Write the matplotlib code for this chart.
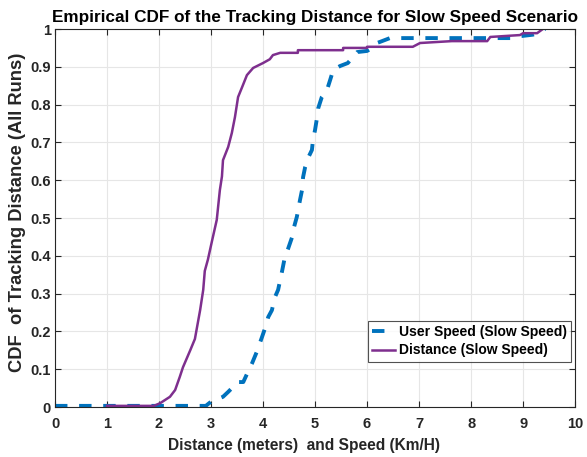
import matplotlib

matplotlib.use("Agg")

import matplotlib.pyplot as plt

plt.rcParams["font.family"] = ["Liberation Sans", "DejaVu Sans"]
plt.rcParams["font.weight"] = "bold"

# Empirical CDF (x, y) - "Distance (Slow Speed)"
dist_x = [1.00, 1.90, 2.02, 2.21, 2.31, 2.40, 2.46, 2.60, 2.69, 2.79, 2.85, 2.88,
          2.94, 2.98, 3.02, 3.11, 3.17, 3.21, 3.23, 3.33, 3.40, 3.46, 3.52, 3.60,
          3.69, 3.81, 4.00, 4.13, 4.19, 4.33, 4.67, 4.67, 5.54, 5.54, 6.00, 6.00,
          6.88, 7.02, 7.63, 8.31, 8.37, 8.94, 9.00, 9.27, 9.38]
dist_y = [0.003, 0.003, 0.010, 0.027, 0.045, 0.080, 0.105, 0.150, 0.180, 0.256,
          0.310, 0.360, 0.390, 0.415, 0.440, 0.495, 0.574, 0.610, 0.653, 0.688,
          0.725, 0.767, 0.820, 0.847, 0.878, 0.897, 0.910, 0.920, 0.931, 0.937,
          0.937, 0.944, 0.944, 0.950, 0.950, 0.953, 0.953, 0.963, 0.968, 0.968,
          0.979, 0.984, 0.989, 0.989, 1.000]

# "User Speed (Slow Speed)"
speed_x = [0.00, 2.90, 3.00, 3.23, 3.33, 3.46, 3.50, 3.62, 3.71, 3.79, 3.88,
           3.98, 4.04, 4.10, 4.17, 4.23, 4.29, 4.33, 4.37, 4.42, 4.48, 4.56,
           4.58, 4.65, 4.71, 4.75, 4.77, 4.81, 4.87, 4.94, 4.96, 5.00, 5.04,
           5.06, 5.13, 5.23, 5.29, 5.35, 5.48, 5.63, 5.73, 5.81, 6.00, 6.10,
           6.19, 6.25, 6.44, 8.80, 8.88, 9.19, 9.33, 9.42]
speed_y = [0.003, 0.003, 0.014, 0.027, 0.040, 0.058, 0.066, 0.066, 0.093, 0.116,
           0.146, 0.185, 0.209, 0.238, 0.256, 0.291, 0.310, 0.336, 0.362, 0.397,
           0.418, 0.450, 0.468, 0.503, 0.547, 0.574, 0.608, 0.635, 0.660, 0.680,
           0.706, 0.733, 0.767, 0.790, 0.820, 0.839, 0.865, 0.892, 0.902, 0.910,
           0.926, 0.939, 0.942, 0.950, 0.963, 0.966, 0.976, 0.976, 0.980, 0.985,
           0.992, 1.000]

x_ticks = list(range(0, 11))
y_ticks = [i / 10 for i in range(0, 11)]
y_tick_labels = ["0"] + [f"{v:.1f}" for v in y_ticks[1:-1]] + ["1"]

fig = plt.figure(figsize=(5.87, 4.57), dpi=100)
ax = fig.add_axes([0.0937, 0.1094, 0.886, 0.8271])

ax.plot(speed_x, speed_y, color="#0072BD", lw=2.8, dashes=(3.2, 3.0),
        dash_capstyle="butt", label="User Speed (Slow Speed)")
ax.plot(dist_x, dist_y, color="#7E2F8E", lw=1.8, label="Distance (Slow Speed)")

ax.set_xlim(0, 10)
ax.set_ylim(0, 1)
ax.set_xticks(x_ticks)
ax.set_yticks(y_ticks, labels=y_tick_labels)
ax.grid(True, color="#e6e6e6", lw=0.8)
ax.set_axisbelow(True)
ax.tick_params(direction="in", top=True, right=True, length=4, width=0.8,
               colors="#262626", labelsize=10.5)
ax.tick_params(axis="x", pad=7.5)
ax.tick_params(axis="y", pad=3)
for s in ax.spines.values():
    s.set_color("#262626")
    s.set_linewidth(0.8)

ax.set_title("Empirical CDF of the Tracking Distance for Slow Speed Scenario",
             fontsize=12.3, fontweight="bold", pad=5)
ax.set_xlabel("Distance (meters)  and Speed (Km/H)", fontsize=11.2, fontweight="bold",
              color="#262626", labelpad=5, x=0.478)
ax.set_ylabel("CDF  of Tracking Distance (All Runs)", fontsize=13.2, fontweight="bold",
              color="#262626", labelpad=3, y=0.515)

leg = ax.legend(loc="lower right", bbox_to_anchor=(0.992, 0.12), fontsize=10,
                frameon=True, fancybox=False, edgecolor="#262626", handlelength=1.65,
                handletextpad=0.25, borderpad=0.3, labelspacing=0.3, borderaxespad=0)
leg.get_frame().set_linewidth(0.8)

fig.savefig("out.png", dpi=100)
